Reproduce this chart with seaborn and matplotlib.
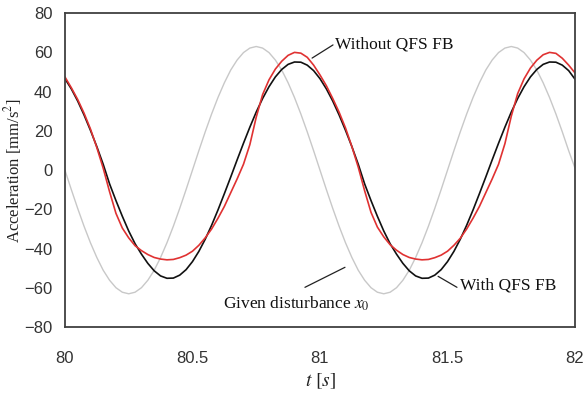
import numpy as np
import pandas as pd
import matplotlib
matplotlib.use("Agg")
import matplotlib.pyplot as plt
import seaborn as sns

# time samples [s], every 0.025 s from 80 to 82
t = [80.000, 80.025, 80.050, 80.075, 80.100, 80.125, 80.150, 80.175, 80.200, 80.225,
     80.250, 80.275, 80.300, 80.325, 80.350, 80.375, 80.400, 80.425, 80.450, 80.475,
     80.500, 80.525, 80.550, 80.575, 80.600, 80.625, 80.650, 80.675, 80.700, 80.725,
     80.750, 80.775, 80.800, 80.825, 80.850, 80.875, 80.900, 80.925, 80.950, 80.975,
     81.000, 81.025, 81.050, 81.075, 81.100, 81.125, 81.150, 81.175, 81.200, 81.225,
     81.250, 81.275, 81.300, 81.325, 81.350, 81.375, 81.400, 81.425, 81.450, 81.475,
     81.500, 81.525, 81.550, 81.575, 81.600, 81.625, 81.650, 81.675, 81.700, 81.725,
     81.750, 81.775, 81.800, 81.825, 81.850, 81.875, 81.900, 81.925, 81.950, 81.975,
     82.000]

# Given disturbance x0 (gray)
disturbance = [0, -9.9, -19.5, -28.6, -37.0, -44.5, -51.0, -56.1, -59.9, -62.2,
               -63, -62.2, -59.9, -56.1, -51.0, -44.5, -37.0, -28.6, -19.5, -9.9,
               0, 9.9, 19.5, 28.6, 37.0, 44.5, 51.0, 56.1, 59.9, 62.2,
               63, 62.2, 59.9, 56.1, 51.0, 44.5, 37.0, 28.6, 19.5, 9.9,
               0, -9.9, -19.5, -28.6, -37.0, -44.5, -51.0, -56.1, -59.9, -62.2,
               -63, -62.2, -59.9, -56.1, -51.0, -44.5, -37.0, -28.6, -19.5, -9.9,
               0, 9.9, 19.5, 28.6, 37.0, 44.5, 51.0, 56.1, 59.9, 62.2,
               63, 62.2, 59.9, 56.1, 51.0, 44.5, 37.0, 28.6, 19.5, 9.9,
               1]

# With QFS FB (black)
with_fb = [46.6, 41.4, 35.2, 28.1, 20.3, 12.0, 3.0, -7.0, -15.5, -23.5,
           -31.0, -37.5, -42.8, -47.5, -51.3, -53.9, -55.1, -55.0, -53.5, -50.7,
           -46.6, -41.4, -35.2, -28.1, -20.3, -12.0, -3.5, 5.2, 13.7, 21.9,
           29.6, 36.5, 42.5, 47.5, 51.3, 53.9, 55.1, 55.0, 53.5, 50.7,
           46.6, 41.4, 35.2, 28.1, 20.3, 12.0, 3.0, -7.0, -15.5, -23.5,
           -31.0, -37.5, -42.8, -47.5, -51.3, -53.9, -55.1, -55.0, -53.5, -50.7,
           -46.6, -41.4, -35.2, -28.1, -20.3, -12.0, -3.5, 5.2, 13.7, 21.9,
           29.6, 36.5, 42.5, 47.5, 51.3, 53.9, 55.1, 55.0, 53.5, 50.7,
           46.3]

# Without QFS FB (red)
without_fb = [47.5, 42.0, 36.0, 29.0, 21.0, 11.5, 1.0, -11.0, -22.0, -29.5,
              -34.5, -38.5, -41.0, -43.0, -44.5, -45.3, -45.7, -45.5, -44.6, -43.3,
              -41.3, -38.3, -34.5, -30.0, -24.5, -18.5, -11.5, -4.5, 3.0, 13.0,
              27.0, 38.5, 46.0, 51.5, 55.5, 58.5, 60.0, 59.6, 57.5, 53.5,
              48.5, 43.0, 36.5, 29.5, 21.5, 12.0, 1.5, -10.5, -21.5, -29.0,
              -34.0, -38.0, -40.8, -43.0, -44.5, -45.3, -45.7, -45.5, -44.6, -43.3,
              -41.3, -38.3, -34.7, -30.0, -24.5, -18.5, -11.5, -4.5, 3.0, 13.5,
              27.5, 39.0, 46.5, 52.0, 56.0, 58.8, 60.0, 59.5, 57.0, 53.5,
              49.5]

df = pd.DataFrame({
    "t": t * 3,
    "a": disturbance + with_fb + without_fb,
    "series": (["Given disturbance"] * len(t) + ["With QFS FB"] * len(t)
               + ["Without QFS FB"] * len(t)),
})

sns.set_style("white")
plt.rcParams["font.family"] = ["Liberation Sans", "DejaVu Sans"]
plt.rcParams["mathtext.fontset"] = "stix"

fig = plt.figure(figsize=(5.85, 3.98), dpi=100)
ax = fig.add_axes([0.111, 0.178, 0.872, 0.789])

palette = {"Given disturbance": "#c8c8c8", "With QFS FB": "#111111",
           "Without QFS FB": "#e03232"}
widths = {"Given disturbance": 1.0, "With QFS FB": 1.2, "Without QFS FB": 1.2}
for name in ["Given disturbance", "With QFS FB", "Without QFS FB"]:
    sub = df[df["series"] == name]
    sns.lineplot(data=sub, x="t", y="a", color=palette[name],
                 linewidth=widths[name], ax=ax, legend=False)

ax.set_xlim(80, 82)
ax.set_ylim(-80, 80)
ax.set_xticks([80, 80.5, 81, 81.5, 82])
ax.set_xticklabels(["80", "80.5", "81", "81.5", "82"])
ax.set_yticks(list(range(-80, 81, 20)))
ax.tick_params(axis="x", direction="in", length=5, width=1.2, pad=17,
               labelsize=12, colors="#404040", labelcolor="#333333")
ax.tick_params(axis="y", direction="in", length=5, width=1.2, pad=9,
               labelsize=12, colors="#404040", labelcolor="#333333")
for s in ax.spines.values():
    s.set_visible(True)
    s.set_color("#404040")
    s.set_linewidth(1.3)

serif = ["Liberation Serif", "DejaVu Serif"]
ax.set_xlabel(r"$t\ [s]$", fontsize=14, labelpad=4, color="#222222")
ax.set_ylabel(r"Acceleration [mm/s$^2$]", fontsize=12, family=serif,
              labelpad=0, color="#222222")

# annotations
ax.plot([80.969, 81.051], [57.1, 63.8], color="#222222", linewidth=0.9)
ax.text(81.059, 63.8, "Without QFS FB", family=serif, fontsize=12.5,
        ha="left", va="center", color="#111111")
ax.plot([81.463, 81.537], [-54.1, -59.7], color="#222222", linewidth=0.9)
ax.text(81.549, -58.7, "With QFS FB", family=serif, fontsize=12.5,
        ha="left", va="center", color="#111111")
ax.plot([81.098, 80.941], [-49.5, -59.7], color="#222222", linewidth=0.9)
ax.text(81.196, -67.9, r"Given disturbance $x_0$", family=serif, fontsize=12.5,
        ha="right", va="center", color="#111111")

fig.savefig("out.png", dpi=100)
